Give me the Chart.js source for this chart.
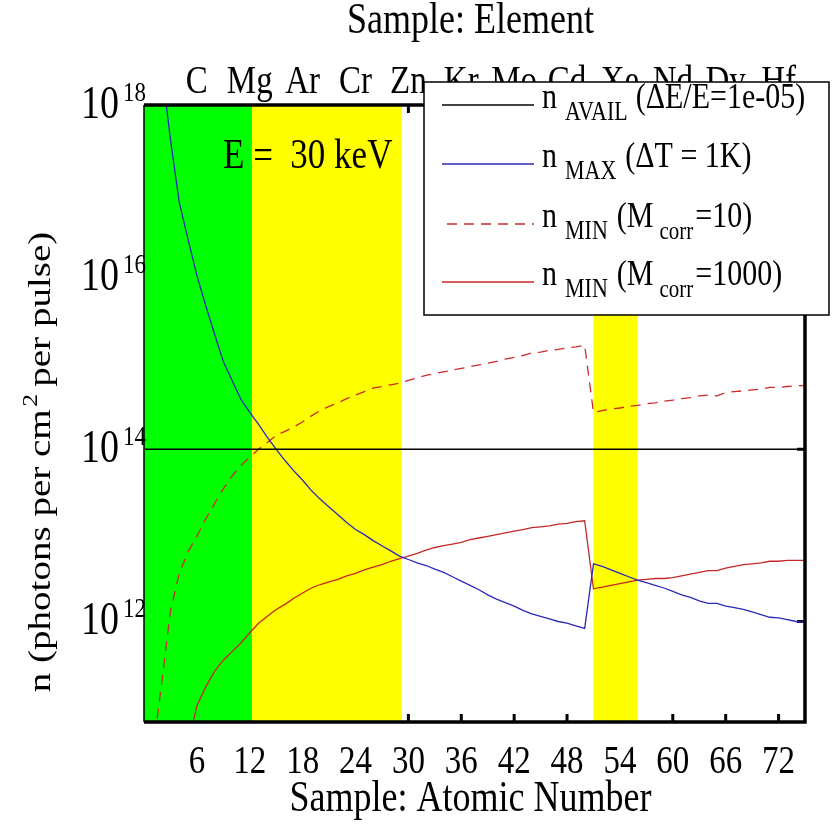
<!DOCTYPE html>
<html>
<head>
<meta charset="utf-8">
<title>Photon flux vs atomic number</title>
<script src="https://cdn.jsdelivr.net/npm/chart.js@4.4.1/dist/chart.umd.min.js"></script>
<style>
  html, body { margin: 0; padding: 0; background: #fff; }
  #wrap { width: 832px; height: 832px; }
</style>
</head>
<body>
<div id="wrap"><canvas id="fluxChart" width="832" height="832"></canvas></div>
<script>
// sample atomic numbers
const atomicNumber = [
  1, 2, 3, 4, 5, 6, 7, 8, 9, 10, 11, 12, 13, 14, 15, 16, 17, 18, 19, 20,
  21, 22, 23, 24, 25, 26, 27, 28, 29, 30, 31, 32, 33, 34, 35, 36, 37, 38, 39, 40,
  41, 42, 43, 44, 45, 46, 47, 48, 49, 50, 51, 52, 53, 54, 55, 56, 57, 58, 59, 60,
  61, 62, 63, 64, 65, 66, 67, 68, 69, 70, 71, 72, 73, 74, 75
];

// n_MAX (dT = 1K)
const nMax = [
  null, 2.82e18, 3.98e17, 7.41e16, 2.75e16, 1.05e16, 4.68e15, 2.19e15, 1.05e15, 6.31e14,
  3.80e14, 2.69e14, 1.95e14, 1.38e14, 1.00e14, 7.41e13, 5.62e13, 4.37e13, 3.31e13, 2.63e13,
  2.14e13, 1.74e13, 1.41e13, 1.17e13, 1.02e13, 8.71e12, 7.59e12, 6.61e12, 5.75e12, 5.25e12,
  4.79e12, 4.47e12, 4.07e12, 3.72e12, 3.31e12, 2.95e12, 2.63e12, 2.34e12, 2.04e12, 1.82e12,
  1.66e12, 1.51e12, 1.35e12, 1.23e12, 1.15e12, 1.07e12, 1.00e12, 9.55e11, 8.91e11, 8.32e11,
  4.68e12, 4.37e12, 3.98e12, 3.63e12, 3.31e12, 3.02e12, 2.82e12, 2.63e12, 2.45e12, 2.24e12,
  2.04e12, 1.91e12, 1.74e12, 1.62e12, 1.62e12, 1.51e12, 1.45e12, 1.38e12, 1.29e12, 1.20e12,
  1.12e12, 1.10e12, 1.05e12, 1.00e12, 9.77e11
];

// n_MIN (Mcorr = 10)
const nMinM10 = [
  3.02e10, 1.91e11, 1.32e12, 3.63e12, 6.46e12, 9.77e12, 1.55e13, 2.34e13, 3.47e13, 4.90e13,
  6.46e13, 8.13e13, 1.00e14, 1.20e14, 1.45e14, 1.62e14, 1.82e14, 2.09e14, 2.45e14, 2.82e14,
  3.16e14, 3.47e14, 3.89e14, 4.27e14, 4.68e14, 5.13e14, 5.37e14, 5.62e14, 5.89e14, 6.31e14,
  6.76e14, 7.24e14, 7.59e14, 7.94e14, 8.32e14, 8.71e14, 9.12e14, 9.55e14, 1.00e15, 1.05e15,
  1.12e15, 1.17e15, 1.23e15, 1.32e15, 1.35e15, 1.41e15, 1.45e15, 1.51e15, 1.55e15, 1.62e15,
  2.69e14, 2.82e14, 2.95e14, 3.02e14, 3.16e14, 3.24e14, 3.39e14, 3.47e14, 3.63e14, 3.72e14,
  3.89e14, 3.98e14, 4.17e14, 4.27e14, 4.17e14, 4.57e14, 4.68e14, 4.79e14, 4.90e14, 5.01e14,
  5.25e14, 5.25e14, 5.37e14, 5.50e14, 5.50e14
];

// n_MIN (Mcorr = 1000)
const nMinM1000 = [
  null, null, null, 1.00e10, 3.72e10, 1.05e11, 1.74e11, 2.63e11, 3.55e11, 4.47e11,
  5.62e11, 7.41e11, 9.55e11, 1.15e12, 1.38e12, 1.58e12, 1.86e12, 2.14e12, 2.45e12, 2.69e12,
  2.88e12, 3.09e12, 3.39e12, 3.63e12, 3.98e12, 4.27e12, 4.57e12, 5.01e12, 5.37e12, 5.75e12,
  6.17e12, 6.76e12, 7.24e12, 7.59e12, 7.94e12, 8.32e12, 8.91e12, 9.33e12, 9.77e12, 1.02e13,
  1.07e13, 1.12e13, 1.17e13, 1.23e13, 1.26e13, 1.29e13, 1.35e13, 1.38e13, 1.45e13, 1.48e13,
  2.40e12, 2.51e12, 2.63e12, 2.75e12, 2.88e12, 3.02e12, 3.09e12, 3.16e12, 3.16e12, 3.24e12,
  3.39e12, 3.55e12, 3.72e12, 3.89e12, 3.89e12, 4.17e12, 4.37e12, 4.57e12, 4.68e12, 4.79e12,
  5.01e12, 5.01e12, 5.13e12, 5.13e12, 5.13e12
];

// n_AVAIL (dE/E = 1e-05), flat across the whole range
const availZ = [0, 75];
const nAvail = [1e14, 1e14];

// axis ticks
const zTicks = [6, 12, 18, 24, 30, 36, 42, 48, 54, 60, 66, 72];
const elementSymbols = ['C', 'Mg', 'Ar', 'Cr', 'Zn', 'Kr', 'Mo', 'Cd', 'Xe', 'Nd', 'Dy', 'Hf'];
const yTickExp = [12, 14, 16, 18];
const yTicks = [1e12, 1e14, 1e16, 1e18];

// shaded Z ranges
const bandFrom = [0, 12.25, 51];
const bandTo = [12.25, 29.25, 56];
const bandColors = ['#00ff00', '#ffff00', '#ffff00'];

const SERIF = '"Liberation Serif", "Times New Roman", serif';
const STRETCH = 1.22;

function pts(xs, ys) {
  return xs.map((x, i) => ({ x: x, y: ys[i] }));
}

// draws a row of text pieces (sub/superscripts via dy), optionally rotated
function drawRuns(ctx, runs, x, y, align, rotate) {
  ctx.save();
  ctx.translate(x, y);
  if (rotate) {
    ctx.rotate(-Math.PI / 2);
    ctx.scale(STRETCH, 1);
  } else {
    ctx.scale(1, STRETCH);
  }
  const widths = runs.map(r => {
    ctx.font = r.size + 'px ' + SERIF;
    return ctx.measureText(r.t).width;
  });
  let total = 0;
  runs.forEach((r, i) => { total += widths[i] + (i < runs.length - 1 ? (r.gap || 0) : 0); });
  let cx = align === 'center' ? -total / 2 : align === 'right' ? -total : 0;
  ctx.fillStyle = '#000';
  ctx.textAlign = 'left';
  ctx.textBaseline = 'alphabetic';
  runs.forEach((r, i) => {
    ctx.font = r.size + 'px ' + SERIF;
    ctx.fillText(r.t, cx, r.dy || 0);
    cx += widths[i] + (r.gap || 0);
  });
  ctx.restore();
}

const legendRows = [
  [{ t: 'n', size: 30, gap: 8 }, { t: 'AVAIL', size: 22, dy: 10, gap: 8 }, { t: '(\u0394E/E=1e-05)', size: 30 }],
  [{ t: 'n', size: 30, gap: 8 }, { t: 'MAX', size: 22, dy: 10, gap: 9 }, { t: '(\u0394T = 1K)', size: 30 }],
  [{ t: 'n', size: 30, gap: 8 }, { t: 'MIN', size: 22, dy: 10, gap: 9 }, { t: '(M', size: 30, gap: 6 },
   { t: 'corr', size: 21, dy: 10, gap: 2 }, { t: '=10)', size: 30 }],
  [{ t: 'n', size: 30, gap: 8 }, { t: 'MIN', size: 22, dy: 10, gap: 9 }, { t: '(M', size: 30, gap: 6 },
   { t: 'corr', size: 21, dy: 10, gap: 2 }, { t: '=1000)', size: 30 }]
];

// inward tick marks go down first so the shaded bands hide the ones inside them
const bandPlugin = {
  id: 'bands',
  beforeDatasetsDraw(chart) {
    const { ctx, chartArea, scales } = chart;
    const { left, right, top, bottom } = chartArea;
    ctx.save();
    ctx.strokeStyle = '#000';
    ctx.lineWidth = 3;
    ctx.beginPath();
    zTicks.forEach(z => {
      const xb = scales.x.getPixelForValue(z);
      ctx.moveTo(xb, bottom); ctx.lineTo(xb, bottom - 8);
      const xt = scales.xTop.getPixelForValue(z);
      ctx.moveTo(xt, top); ctx.lineTo(xt, top + 8);
    });
    yTicks.forEach(v => {
      const py = scales.y.getPixelForValue(v);
      ctx.moveTo(right, py); ctx.lineTo(right - 8, py);
    });
    ctx.stroke();

    bandFrom.forEach((from, i) => {
      const x0 = scales.x.getPixelForValue(from);
      const x1 = scales.x.getPixelForValue(bandTo[i]);
      ctx.fillStyle = bandColors[i];
      ctx.fillRect(x0, top, x1 - x0, bottom - top);
    });
    ctx.restore();
  }
};

const decorPlugin = {
  id: 'decor',
  afterDraw(chart) {
    const { ctx, chartArea, scales } = chart;
    const { left, right, top, bottom } = chartArea;
    const cx = (left + right) / 2;

    // axes box
    ctx.save();
    ctx.strokeStyle = '#000';
    ctx.lineWidth = 3.5;
    ctx.beginPath();
    ctx.moveTo(left, top); ctx.lineTo(right, top); ctx.lineTo(right, bottom); ctx.lineTo(left, bottom);
    ctx.stroke();
    ctx.lineWidth = 1.5;
    ctx.beginPath();
    ctx.moveTo(left, top); ctx.lineTo(left, bottom);
    ctx.stroke();
    ctx.restore();

    // bottom tick labels and top element labels
    zTicks.forEach((z, i) => {
      drawRuns(ctx, [{ t: String(z), size: 33 }], scales.x.getPixelForValue(z), 773, 'center');
      drawRuns(ctx, [{ t: elementSymbols[i], size: 33 }], scales.xTop.getPixelForValue(z), 93, 'center');
    });

    // y ticks 10^n
    yTicks.forEach((v, i) => {
      const py = scales.y.getPixelForValue(v);
      drawRuns(ctx, [{ t: '10', size: 38, gap: 4 }, { t: String(yTickExp[i]), size: 23, dy: -14 }],
        146, py + 13, 'right');
    });

    // axis titles
    drawRuns(ctx, [{ t: 'Sample: Element', size: 36 }], cx - 4, 33, 'center');
    drawRuns(ctx, [{ t: 'Sample: Atomic Number', size: 36 }], cx - 4, 811, 'center');
    drawRuns(ctx, [
      { t: 'n (photons per cm', size: 32, gap: 2 },
      { t: '2', size: 21, dy: -13, gap: 6 },
      { t: 'per pulse)', size: 32 }
    ], 50, 462, 'center', true);

    drawRuns(ctx, [{ t: 'E =  30 keV', size: 35 }], 223, 168, 'left');

    // legend box
    const lx = 424, ly = 82, lw = 405, lh = 233;
    ctx.save();
    ctx.fillStyle = '#fff';
    ctx.fillRect(lx, ly, lw, lh);
    ctx.strokeStyle = '#000';
    ctx.lineWidth = 1.5;
    ctx.strokeRect(lx, ly, lw, lh);
    const rowY = [108, 167, 227, 285];
    chart.data.datasets.forEach((ds, i) => {
      const ly0 = rowY[i] - 3;
      ctx.strokeStyle = ds.borderColor;
      ctx.lineWidth = ds.borderWidth;
      ctx.setLineDash(ds.borderDash || []);
      ctx.beginPath();
      ctx.moveTo(ds.borderDash ? 447 : 442, ly0);
      ctx.lineTo(534, ly0);
      ctx.stroke();
      ctx.setLineDash([]);
      drawRuns(ctx, legendRows[i], 542, rowY[i], 'left');
    });
    ctx.restore();
  }
};

const hiddenAxis = {
  grid: { display: false },
  border: { display: false },
  ticks: { display: false }
};

new Chart(document.getElementById('fluxChart'), {
  type: 'line',
  data: {
    datasets: [
      {
        label: 'n AVAIL',
        data: pts(availZ, nAvail),
        borderColor: '#000000',
        borderWidth: 1.5
      },
      {
        label: 'n MAX',
        data: pts(atomicNumber, nMax),
        borderColor: '#2a2ab8',
        borderWidth: 1.3
      },
      {
        label: 'n MIN (Mcorr=10)',
        data: pts(atomicNumber, nMinM10),
        borderColor: '#cc2b2b',
        borderWidth: 1.3,
        borderDash: [10, 7]
      },
      {
        label: 'n MIN (Mcorr=1000)',
        data: pts(atomicNumber, nMinM1000),
        borderColor: '#c62828',
        borderWidth: 1.3
      }
    ]
  },
  options: {
    responsive: false,
    animation: false,
    devicePixelRatio: 1,
    layout: { padding: { left: 0, right: 27, top: 0, bottom: 0 } },
    elements: {
      point: { radius: 0 },
      line: { tension: 0, fill: false }
    },
    plugins: {
      legend: { display: false },
      tooltip: { enabled: false }
    },
    scales: {
      x: {
        type: 'linear',
        position: 'bottom',
        min: 0,
        max: 75,
        ...hiddenAxis,
        afterBuildTicks: (scale) => { scale.ticks = zTicks.map(v => ({ value: v })); },
        afterFit: (scale) => { scale.height = 110; }
      },
      xTop: {
        type: 'linear',
        position: 'top',
        min: 0,
        max: 75,
        ...hiddenAxis,
        afterBuildTicks: (scale) => { scale.ticks = zTicks.map(v => ({ value: v })); },
        afterFit: (scale) => { scale.height = 105; }
      },
      y: {
        type: 'logarithmic',
        min: 6.8e10,
        max: 1e18,
        ...hiddenAxis,
        afterBuildTicks: (scale) => { scale.ticks = yTicks.map(v => ({ value: v })); },
        afterFit: (scale) => { scale.width = 144; }
      }
    }
  },
  plugins: [bandPlugin, decorPlugin]
});
</script>
</body>
</html>
